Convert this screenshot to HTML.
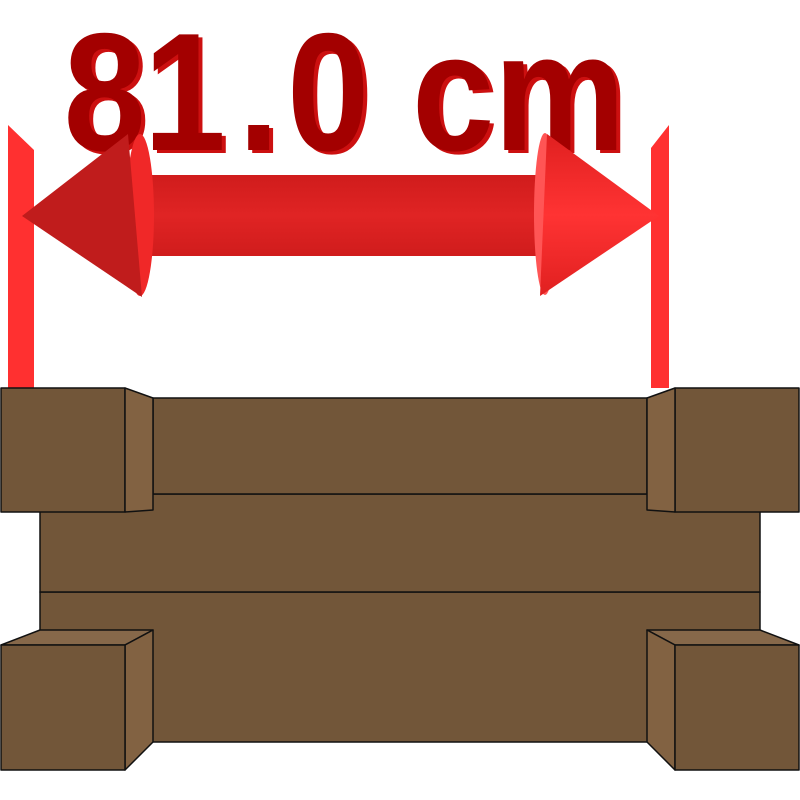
<!DOCTYPE html>
<html><head><meta charset="utf-8"><style>html,body{margin:0;padding:0;background:#fff}svg{display:block}</style></head>
<body>
<svg width="800" height="800" viewBox="0 0 800 800">
<defs>
<linearGradient id="shaft" x1="0" y1="0" x2="0" y2="1"><stop offset="0" stop-color="#d01c1c"/><stop offset="0.5" stop-color="#e02424"/><stop offset="1" stop-color="#d01c1c"/></linearGradient>
<linearGradient id="coneR" x1="0" y1="0" x2="0" y2="1"><stop offset="0" stop-color="#e02020"/><stop offset="0.5" stop-color="#ff3333"/><stop offset="1" stop-color="#e02020"/></linearGradient>
</defs>
<g><polygon points="8,125 34,150 34,388 8,388" fill="#ff3030"/></g>
<g><polygon points="651,148 669,125 669,388 651,388" fill="#ff3030"/></g>
<g transform="translate(4,3)">
<text transform="scale(0.88,1)" y="150" font-family="Liberation Sans, sans-serif" font-weight="bold" font-size="168" fill="#cc1010" text-anchor="middle"><tspan x="119">8</tspan><tspan x="210">1</tspan><tspan x="294">.</tspan><tspan x="373">0</tspan><tspan x="515">c</tspan><tspan x="636">m</tspan></text>
</g>
<text transform="scale(0.88,1)" y="150" font-family="Liberation Sans, sans-serif" font-weight="bold" font-size="168" fill="#a30000" text-anchor="middle"><tspan x="119">8</tspan><tspan x="210">1</tspan><tspan x="294">.</tspan><tspan x="373">0</tspan><tspan x="515">c</tspan><tspan x="636">m</tspan></text>
<g>
<rect x="133" y="175" width="415" height="81" fill="url(#shaft)"/>
<ellipse cx="140" cy="215" rx="14" ry="81" fill="#f02828"/>
<polygon points="22,216 128,134 142,297" fill="#c01c1c"/>
<ellipse cx="545" cy="214" rx="11" ry="81" fill="#ff5555"/>
<polygon points="547,134 659,216 540,296" fill="url(#coneR)"/>
</g>
<g stroke="#111" stroke-width="1.5" stroke-linejoin="round">
<rect x="40" y="592" width="720" height="150" fill="#725639"/>
<rect x="40" y="494" width="720" height="98" fill="#725639"/>
<rect x="153" y="398" width="494" height="96" fill="#725639"/>
<g>
<rect x="1" y="388" width="124" height="124" fill="#725639"/>
<polygon points="125,388 153,398 153,510 125,512" fill="#826242"/>
</g>
<g>
<rect x="675" y="388" width="124" height="124" fill="#725639"/>
<polygon points="675,388 647,398 647,510 675,512" fill="#826242"/>
</g>
<g>
<polygon points="1,645 40,630 153,630 125,645" fill="#86684a"/>
<polygon points="125,645 153,630 153,742 125,770" fill="#826242"/>
<rect x="1" y="645" width="124" height="125" fill="#725639"/>
</g>
<g>
<polygon points="799,645 760,630 647,630 675,645" fill="#86684a"/>
<polygon points="675,645 647,630 647,742 675,770" fill="#826242"/>
<rect x="675" y="645" width="124" height="125" fill="#725639"/>
</g>
</g>
</svg>
</body></html>
